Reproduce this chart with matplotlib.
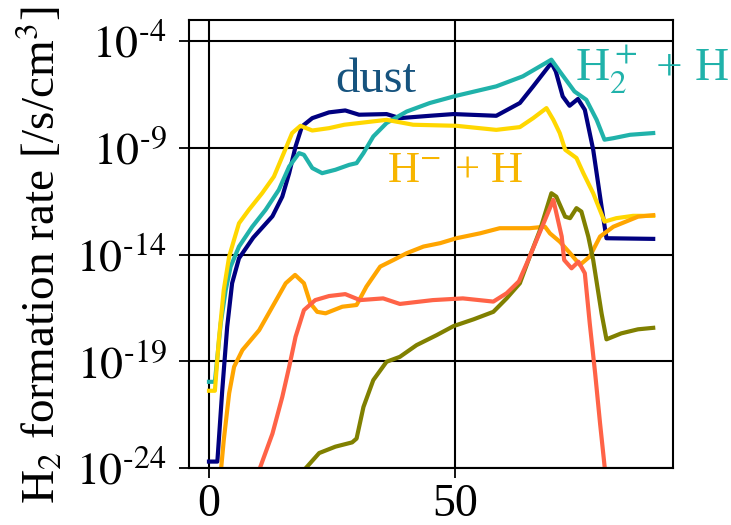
import matplotlib

matplotlib.use("Agg")
import matplotlib.pyplot as plt
import numpy as np

plt.rcParams["font.family"] = ["Liberation Serif", "DejaVu Serif"]
plt.rcParams["mathtext.fontset"] = "stix"

# curves: x positions and log10 of the formation rate
dust_x = [0, 1.7, 2.7, 3.7, 4.7, 6.1, 9.0, 12.9, 14.9, 16.3, 17.6, 18.9, 21, 24.4, 27.7,
          30.5, 36.1, 38.8, 44.9, 49.7, 58.4, 63.2, 65.9, 69.6, 70.5, 71.9, 73.3, 75.0,
          76.4, 78.1, 79.8, 80.8, 90.3]
dust_log = [-23.7, -23.7, -20.35, -17.38, -15.34, -14.17, -13.2, -12.2, -11.28, -10.18,
            -8.93, -7.99, -7.6, -7.33, -7.24, -7.44, -7.41, -7.6, -7.49, -7.41, -7.49,
            -6.89, -6.11, -5.01, -5.41, -6.58, -7.02, -6.7, -7.21, -9.08, -11.75, -13.23,
            -13.26]

h2p_x = [0, 1.2, 2.4, 3.4, 4.4, 6.1, 8.8, 11.5, 14.2, 16.3, 18.3, 19.3, 21, 23, 25.7,
         28.5, 30, 31.4, 33.4, 36.1, 40.2, 44.9, 50.3, 58.4, 63.8, 67.3, 69.6, 71.3, 74.3,
         76.7, 78.8, 80.4, 82.2, 85.6, 90.3]
h2p_log = [-19.96, -19.96, -17.2, -15.66, -14.56, -13.62, -12.69, -11.9, -10.96, -9.87,
           -9.24, -9.32, -9.94, -10.18, -10.02, -9.79, -9.71, -9.24, -8.46, -7.83, -7.29,
           -6.89, -6.55, -6.11, -5.64, -5.17, -4.86, -5.41, -6.35, -6.74, -7.68, -8.61,
           -8.54, -8.38, -8.3]

hm_x = [0, 1.2, 2.0, 3.0, 4.1, 5.1, 6.1, 8.1, 10.8, 13.2, 15.2, 16.9, 18.6, 21, 24.4,
        27.5, 36.1, 41.5, 50.3, 58.4, 63.2, 65.9, 68.6, 70, 71.3, 72.4, 74.7, 76.1, 78.1,
        80.4, 82.8, 86.2, 90.3]
hm_log = [-20.38, -20.38, -18.0, -15.66, -14.09, -13.3, -12.53, -11.9, -11.12, -10.34,
          -9.24, -8.3, -7.96, -8.18, -8.07, -7.91, -7.68, -7.91, -7.96, -8.15, -8.02,
          -7.6, -7.13, -7.68, -8.3, -9.08, -9.47, -10.18, -11.12, -12.45, -12.29, -12.18,
          -12.18]

orange_x = [2.4, 3.0, 4.1, 5.1, 6.8, 10.2, 12.9, 15.6, 17.5, 19.3, 20.6, 22.0, 23.7,
            27.1, 30.0, 32, 34.8, 37.5, 40.2, 43.6, 47, 50.3, 55.1, 59.1, 65.2, 68.3,
            69.3, 71.3, 73.4, 75.4, 77.4, 79.5, 82.2, 87.2, 90.3]
orange_log = [-24.2, -22.7, -20.5, -19.26, -18.47, -17.54, -16.44, -15.34, -14.95,
              -15.34, -16.28, -16.68, -16.75, -16.44, -16.36, -15.5, -14.56, -14.25,
              -13.93, -13.62, -13.46, -13.23, -13.0, -12.76, -12.76, -12.69, -13.0,
              -13.39, -13.93, -14.48, -14.09, -13.15, -12.69, -12.22, -12.15]

tomato_x = [10.2, 12.9, 14.9, 16.3, 17.6, 19.3, 21.6, 24.4, 27.7, 30.7, 35.4, 38.8, 45.5,
            51.6, 57.8, 60.5, 63.0, 64.9, 66.6, 70, 71.7, 72.2, 73.7, 75.1, 76.4, 77.4,
            78.5, 79.5, 80.5]
tomato_log = [-24.1, -22.39, -20.67, -19.26, -17.85, -16.6, -16.13, -15.94, -15.85,
              -16.13, -16.05, -16.31, -16.13, -16.05, -16.2, -15.81, -15.25, -14.25,
              -13.31, -11.43, -13.15, -14.25, -14.64, -14.33, -14.87, -17.22, -19.57,
              -21.92, -24.1]

olive_x = [19.7, 22.4, 25.7, 29.1, 30.0, 31.4, 33.4, 36.1, 38.8, 42.2, 46.3, 49.7, 53.8,
           57.8, 60.5, 63.2, 65.2, 67.3, 69.6, 70.6, 72.4, 73.4, 74.7, 75.7, 77.1, 78.1,
           79.8, 80.8, 83.8, 87.2, 90.3]
olive_log = [-24.0, -23.3, -23.0, -22.8, -22.62, -21.14, -19.88, -19.02, -18.79, -18.24,
             -17.77, -17.35, -17.03, -16.68, -16.05, -15.34, -14.09, -12.84, -11.12,
             -11.28, -12.22, -12.29, -11.82, -11.98, -13.15, -14.25, -16.75, -17.97,
             -17.69, -17.5, -17.43]

ytick_exps = [-24, -19, -14, -9, -4]
xticks = [0, 50]

curves = [
    (dust_x, dust_log, "#000080"),
    (h2p_x, h2p_log, "#20b2aa"),
    (hm_x, hm_log, "#ffd700"),
    (orange_x, orange_log, "#ffa500"),
    (olive_x, olive_log, "#808000"),
    (tomato_x, tomato_log, "#ff6347"),
]

fig = plt.figure(figsize=(7.31, 5.25), dpi=100)
ax = fig.add_axes([0.2585, 0.1086, 0.662, 0.8533])

for xs, logs, color in curves:
    ax.plot(xs, 10.0 ** np.asarray(logs), color=color, linewidth=3.0,
            solid_joinstyle="round")

ax.set_yscale("log")
ax.set_xlim(-4.07, 94.3)
ax.set_ylim(1e-24, 1e-3)
ax.set_yticks([10.0 ** e for e in ytick_exps])
ax.set_yticklabels([r"$10^{\text{-}%d}$" % -e for e in ytick_exps])
ax.yaxis.set_minor_locator(matplotlib.ticker.NullLocator())
ax.set_xticks(xticks)
ax.tick_params(axis="both", which="major", direction="out", length=7, width=1.3,
               labelsize=33, color="black")
ax.tick_params(axis="y", pad=9)
ax.tick_params(axis="x", pad=4)
ax.grid(True, color="black", linewidth=1.5)
for spine in ax.spines.values():
    spine.set_linewidth(1.5)

ax.set_ylabel(r"H$_2$ formation rate [/s/cm$^3$]", fontsize=34)
ax.yaxis.set_label_coords(-0.255, 0.475)

ax.text(33.9, 10.0 ** -5.8, "dust", color="#16537e", fontsize=35, ha="center", va="center")
ax.text(90, 10.0 ** -5.3, r"H$_2^+$ + H", color="#20b2aa", fontsize=34,
        ha="center", va="center")
ax.text(50, 10.0 ** -10.1, r"H$^{-}$ + H", color="#f7b500", fontsize=32,
        ha="center", va="center")

fig.savefig("out.png", dpi=100)
